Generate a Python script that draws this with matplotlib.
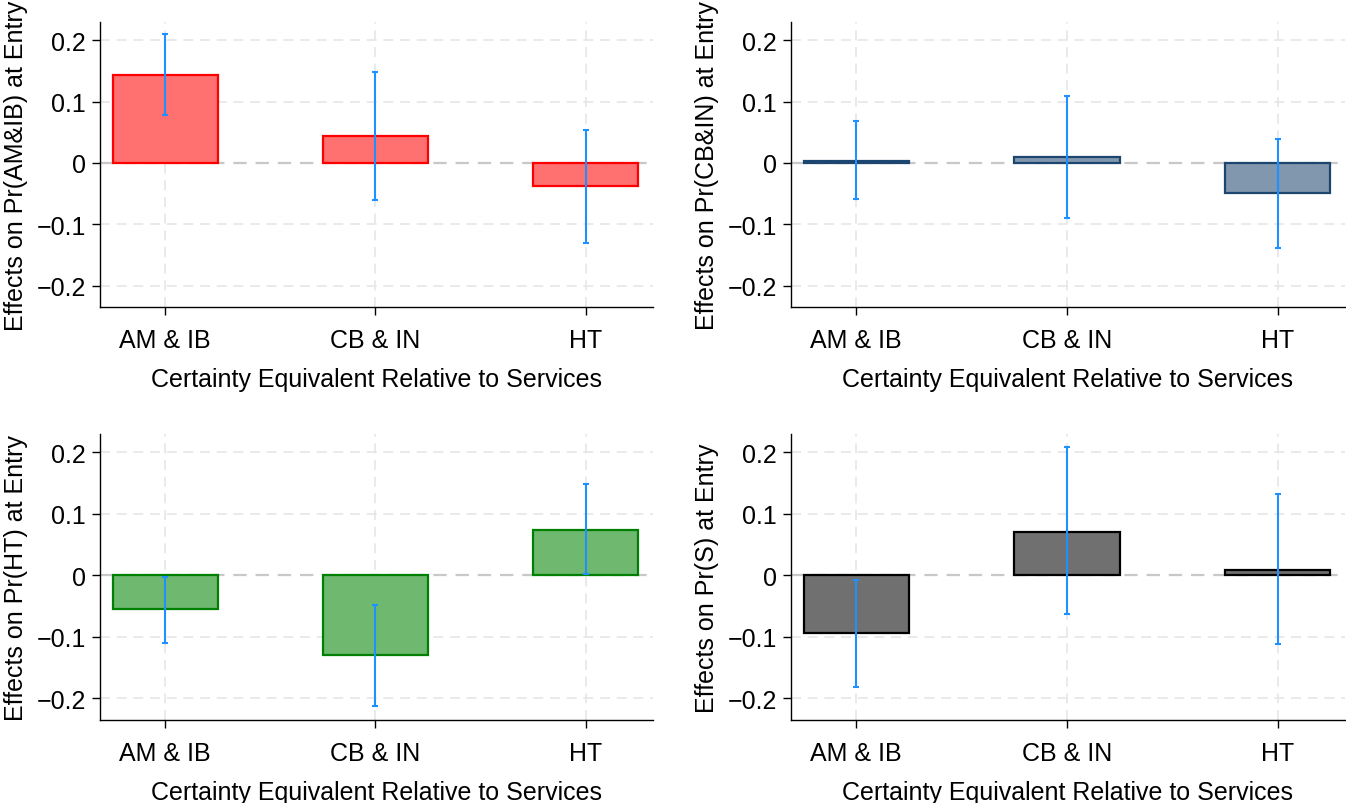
import numpy as np
import matplotlib.pyplot as plt
from matplotlib.ticker import FixedLocator, FixedFormatter

plt.rcParams["font.family"] = ["Liberation Sans", "DejaVu Sans"]

categories = ["AM & IB", "CB & IN", "HT"]
xlabel = "Certainty Equivalent Relative to Services"
ytick_vals = [-0.2, -0.1, 0, 0.1, 0.2]
ytick_labels = ["\u22120.2", "\u22120.1", "0", "0.1", "0.2"]

# point estimates and 95% CI bounds, per outcome
amib_est = [0.143, 0.0435, -0.0375]
amib_lo = [0.078, -0.060, -0.130]
amib_hi = [0.210, 0.149, 0.054]

cbin_est = [0.003, 0.010, -0.049]
cbin_lo = [-0.059, -0.089, -0.139]
cbin_hi = [0.069, 0.110, 0.039]

ht_est = [-0.055, -0.129, 0.074]
ht_lo = [-0.109, -0.212, 0.002]
ht_hi = [-0.003, -0.048, 0.148]

s_est = [-0.094, 0.071, 0.009]
s_lo = [-0.182, -0.063, -0.111]
s_hi = [-0.008, 0.209, 0.132]

panels = [
    ("Effects on Pr(AM&IB) at Entry", amib_est, amib_lo, amib_hi, "#ff7070", "#ff0000"),
    ("Effects on Pr(CB&IN) at Entry", cbin_est, cbin_lo, cbin_hi, "#8197ad", "#1c4670"),
    ("Effects on Pr(HT) at Entry", ht_est, ht_lo, ht_hi, "#6fb86f", "#008000"),
    ("Effects on Pr(S) at Entry", s_est, s_lo, s_hi, "#707070", "#000000"),
]

W, H = 1346, 804
fig = plt.figure(figsize=(W / 100, H / 100), dpi=100)
lefts = [100 / W, 791 / W]
widths = [553 / W, 554 / W]
bottoms = [1 - 308 / H, 1 - 721 / H]
heights = [285 / H, 286 / H]

for i, (ylab, est, lo, hi, fill, edge) in enumerate(panels):
    r, c = divmod(i, 2)
    ax = fig.add_axes([lefts[c], bottoms[r], widths[c], heights[r]])
    x = np.arange(len(categories))
    est = np.array(est)
    yerr = np.vstack([est - np.array(lo), np.array(hi) - est])

    ax.axhline(0, color="#c8c8c8", lw=1.6, ls=(0, (6, 4)), zorder=1)
    ax.bar(x, est, width=0.5, color=fill, edgecolor=edge, linewidth=1.6, zorder=2)
    ax.errorbar(x, est, yerr=yerr, fmt="none", ecolor="#1e90ff", elinewidth=1.5,
                capsize=2.5, capthick=1.5, zorder=3)

    ax.set_xlim(-0.31, 2.32)
    ax.set_ylim(-0.235, 0.23)
    ax.yaxis.set_major_locator(FixedLocator(ytick_vals))
    ax.yaxis.set_major_formatter(FixedFormatter(ytick_labels))
    ax.set_xticks(x)
    ax.set_xticklabels(categories)

    for v in ytick_vals:
        if v != 0:
            ax.axhline(v, color="#e6e6e6", lw=1.2, ls=(0, (6, 4)), zorder=0)
    for xv in x:
        ax.axvline(xv, color="#e6e6e6", lw=1.2, ls=(0, (6, 4)), zorder=0)

    ax.spines["top"].set_visible(False)
    ax.spines["right"].set_visible(False)
    ax.spines["left"].set_linewidth(1.0)
    ax.spines["bottom"].set_linewidth(1.0)
    ax.tick_params(axis="y", length=6, width=1, pad=4, labelsize=18)
    ax.tick_params(axis="x", length=6, width=1, pad=9, labelsize=18)
    ax.set_ylabel(ylab, fontsize=18, labelpad=6)
    ax.set_xlabel(xlabel, fontsize=18, labelpad=11)

fig.savefig("out.png", dpi=100)
